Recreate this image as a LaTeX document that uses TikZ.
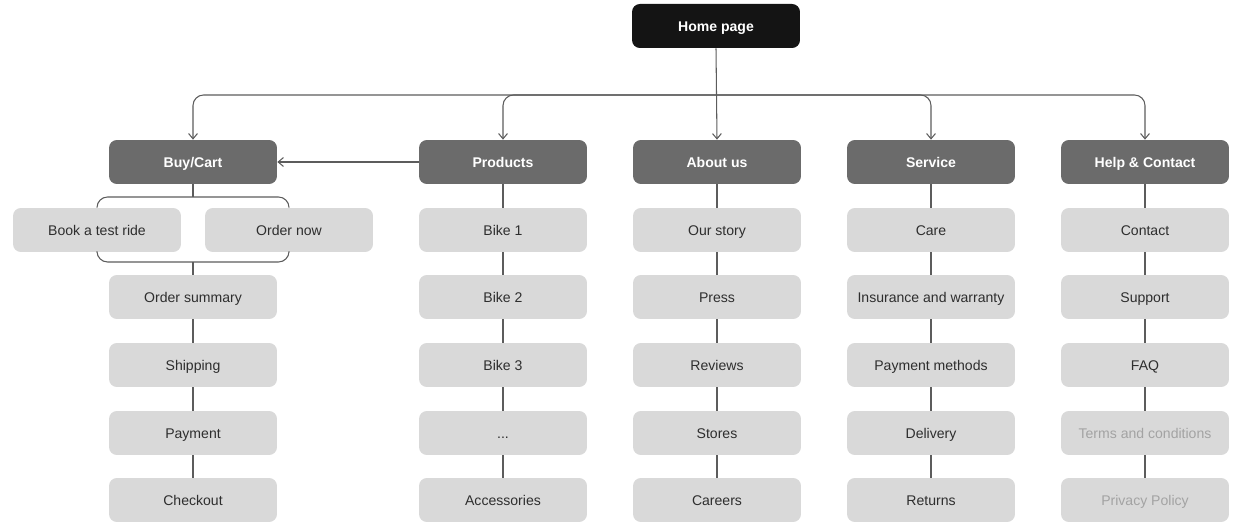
\documentclass[tikz,border=0pt]{standalone}
\usepackage{fontspec}
\setmainfont{Liberation Sans}
\usetikzlibrary{arrows.meta}

\definecolor{homeblack}{HTML}{141414}
\definecolor{headgray}{HTML}{6B6B6B}
\definecolor{itemgray}{HTML}{D9D9D9}
\definecolor{textgray}{HTML}{2E2E2E}
\definecolor{fadegray}{HTML}{A3A3A3}
\definecolor{linegray}{HTML}{5C5C5C}

\tikzset{
  box/.style={rounded corners=4.5pt, minimum width=3.36cm, minimum height=0.88cm,
    inner sep=0pt, text height=1.55ex, text depth=0.45ex, font=\fontsize{8}{10}\selectfont},
  homebox/.style={box, fill=homeblack, text=white, font=\bfseries\fontsize{8}{10}\selectfont},
  headbox/.style={box, fill=headgray, text=white, font=\bfseries\fontsize{8}{10}\selectfont},
  itembox/.style={box, fill=itemgray, text=textgray},
  fadebox/.style={itembox, text=fadegray},
  link/.style={draw=linegray, line width=0.6pt},
  arrowlink/.style={link, -{Straight Barb[length=3pt,width=5pt]}},
}

\begin{document}
\begin{tikzpicture}[x=0.02cm, y=-0.02cm]
\useasboundingbox (0,0) rectangle (1234,523);

% home page
\node [homebox] (home) at (716,26) {Home page};

% headers
\node [headbox] (buy)      at (193,162)  {Buy/Cart};
\node [headbox] (products) at (503,162)  {Products};
\node [headbox] (about)    at (717,162)  {About us};
\node [headbox] (service)  at (931,162)  {Service};
\node [headbox] (help)     at (1145,162) {Help \& Contact};

% buy / cart column
\node [itembox] (book)    at (97,230)  {Book a test ride};
\node [itembox] (order)   at (289,230) {Order now};
\node [itembox] (summary) at (193,297) {Order summary};
\node [itembox] (ship)    at (193,365) {Shipping};
\node [itembox] (pay)     at (193,433) {Payment};
\node [itembox] (check)   at (193,500) {Checkout};

% products column
\node [itembox] (bikeA) at (503,230) {Bike 1};
\node [itembox] (bikeB) at (503,297) {Bike 2};
\node [itembox] (bikeC) at (503,365) {Bike 3};
\node [itembox] (more)  at (503,433) {...};
\node [itembox] (acc)   at (503,500) {Accessories};

% about us column
\node [itembox] (story)   at (717,230) {Our story};
\node [itembox] (press)   at (717,297) {Press};
\node [itembox] (reviews) at (717,365) {Reviews};
\node [itembox] (stores)  at (717,433) {Stores};
\node [itembox] (careers) at (717,500) {Careers};

% service column
\node [itembox] (care)     at (931,230) {Care};
\node [itembox] (insure)   at (931,297) {Insurance and warranty};
\node [itembox] (methods)  at (931,365) {Payment methods};
\node [itembox] (delivery) at (931,433) {Delivery};
\node [itembox] (returns)  at (931,500) {Returns};

% help & contact column
\node [itembox] (contact) at (1145,230) {Contact};
\node [itembox] (support) at (1145,297) {Support};
\node [itembox] (faq)     at (1145,365) {FAQ};
\node [fadebox] (terms)   at (1145,433) {Terms and conditions};
\node [fadebox] (privacy) at (1145,500) {Privacy Policy};

% home page to headers
\coordinate (bus) at (716,95);
\draw [arrowlink] (home.south) -- (about.north);
\draw [arrowlink, rounded corners=6pt] (bus) -| (buy.north);
\draw [arrowlink, rounded corners=6pt] (bus) -| (products.north);
\draw [arrowlink, rounded corners=6pt] (bus) -| (service.north);
\draw [arrowlink, rounded corners=6pt] (bus) -| (help.north);

% products to cart
\draw [arrowlink] (products.west) -- (buy.east);

% bracket round the two buying options
\coordinate (btop) at (193,197);
\coordinate (bbot) at (193,262);
\draw [link] (buy.south) -- (btop);
\draw [link, rounded corners=6pt] (book.north) |- (btop) -| (order.north);
\draw [link, rounded corners=6pt] (book.south) |- (bbot) -| (order.south);
\draw [link] (bbot) -- (summary.north);

% column chains
\foreach \a/\b in {summary/ship, ship/pay, pay/check,
  products/bikeA, bikeA/bikeB, bikeB/bikeC, bikeC/more, more/acc,
  about/story, story/press, press/reviews, reviews/stores, stores/careers,
  service/care, care/insure, insure/methods, methods/delivery, delivery/returns,
  help/contact, contact/support, support/faq, faq/terms, terms/privacy}
  \draw [link] (\a.south) -- (\b.north);

\end{tikzpicture}
\end{document}
